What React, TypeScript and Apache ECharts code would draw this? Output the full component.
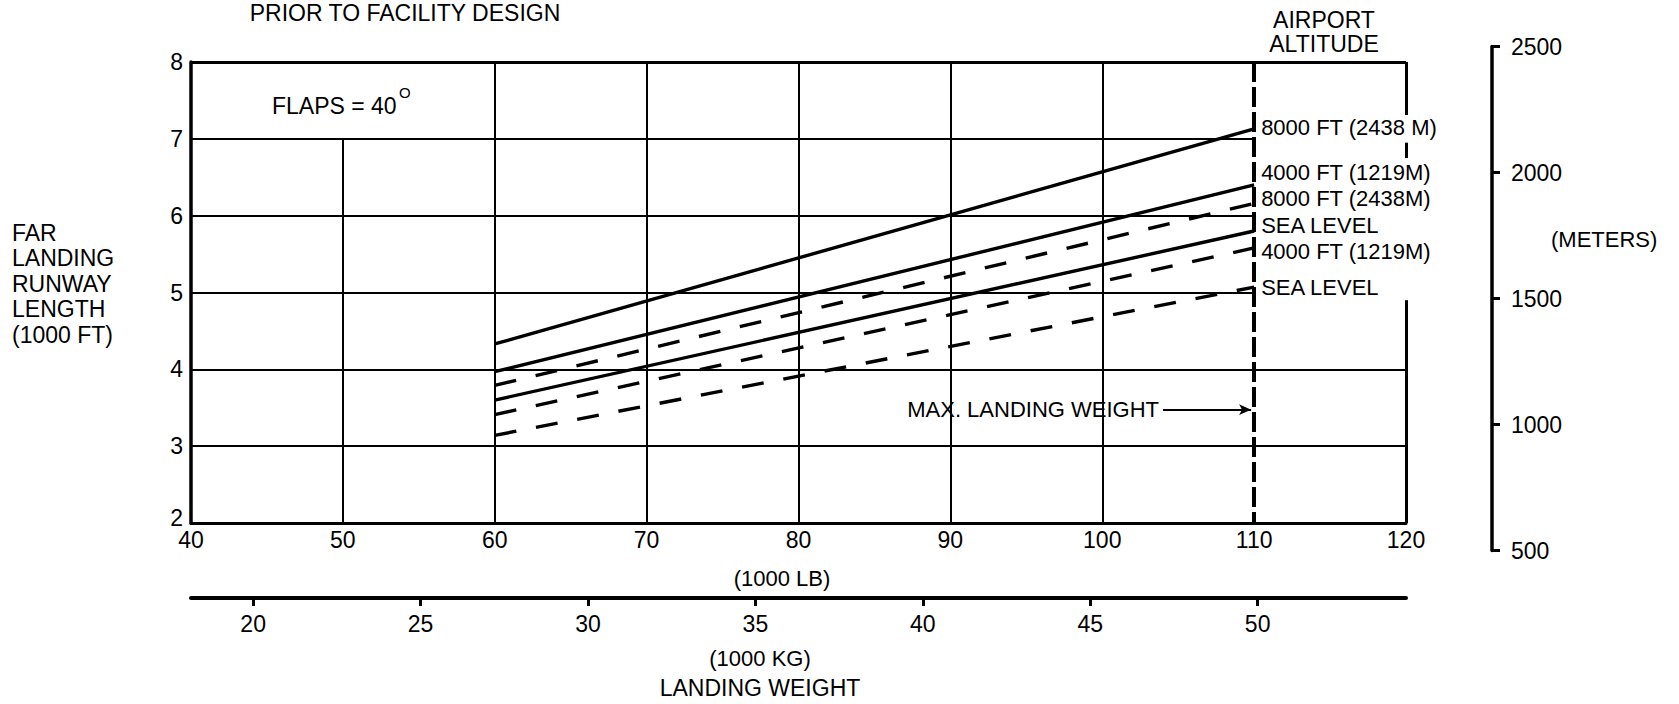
import React, { useEffect, useRef } from "react";
import * as echarts from "echarts";

// ---- data (landing weight in 1000 lb, runway length in 1000 ft) ----
const weightLb = [60, 110];
const solid8000 = [4.33, 7.13];
const solid4000 = [3.97, 6.4];
const solidSea = [3.6, 5.8];
const dashed8000 = [3.79, 6.16];
const dashed4000 = [3.41, 5.58];
const dashedSea = [3.14, 5.07];

const lbTicks = [40, 50, 60, 70, 80, 90, 100, 110, 120];
const kgTicks = [20, 25, 30, 35, 40, 45, 50];
const ftTicks = [2, 3, 4, 5, 6, 7, 8];
const meterTicks = [500, 1000, 1500, 2000, 2500];

const maxLandingWeightLb = 110;
const LB_PER_KG = 2.20462;

const FONT = "'Liberation Sans', Arial, Helvetica, sans-serif";

const toPairs = (ys: number[]) => weightLb.map((x, i) => [x, ys[i]]);

export default function App() {
  const ref = useRef<HTMLDivElement>(null);

  useEffect(() => {
    document.body.style.margin = "0";
    const chart = echarts.init(ref.current!, null, { renderer: "svg" });

    const lbMin = lbTicks[0];
    const lbMax = lbTicks[lbTicks.length - 1];
    const ftMin = ftTicks[0];
    const ftMax = ftTicks[ftTicks.length - 1];

    const black = "#000";
    const grid = { color: black, width: 2, type: "solid" as const };
    const border = { color: black, width: 3, type: "solid" as const };
    const seg = (x1: number, y1: number, x2: number, y2: number, ls: any) => [
      { coord: [x1, y1], lineStyle: ls },
      { coord: [x2, y2] },
    ];

    const gridLines: any[] = [
      // horizontal grid
      seg(lbMin, 3, lbMax, 3, grid),
      seg(lbMin, 4, lbMax, 4, grid),
      seg(lbMin, 5, maxLandingWeightLb, 5, grid),
      seg(lbMin, 6, maxLandingWeightLb, 6, grid),
      seg(lbMin, 7, maxLandingWeightLb, 7, grid),
      seg(lbMin, ftMax, lbMax, ftMax, border),
      // vertical grid
      seg(50, ftMin, 50, 7, grid),
      seg(60, ftMin, 60, ftMax, grid),
      seg(70, ftMin, 70, ftMax, grid),
      seg(80, ftMin, 80, ftMax, grid),
      seg(90, ftMin, 90, ftMax, grid),
      seg(100, ftMin, 100, ftMax, grid),
      // right border (interrupted by the altitude labels)
      seg(lbMax, ftMax, lbMax, 7.31, border),
      seg(lbMax, 6.95, lbMax, 6.75, border),
      seg(lbMax, 4.9, lbMax, ftMin, border),
      // max landing weight line
      seg(maxLandingWeightLb, ftMax, maxLandingWeightLb, ftMin, {
        color: black,
        width: 4,
        type: [20, 5],
      }),
      // arrow
      [
        {
          coord: [104.0, 3.475],
          symbol: "none",
          lineStyle: { color: black, width: 2, type: "solid" },
          label: {
            show: true,
            position: "start",
            formatter: "MAX. LANDING WEIGHT",
            color: black,
            fontSize: 22,
            fontFamily: FONT,
            distance: 4,
          },
        },
        { coord: [109.8, 3.475], symbol: "arrow", symbolSize: [8, 12] },
      ],
    ];

    const lineSeries = (
      name: string,
      ys: number[],
      dashed: boolean,
      label: string,
      dy: number,
      extra: any = {}
    ) => ({
      name,
      type: "line",
      xAxisIndex: 0,
      yAxisIndex: 0,
      data: toPairs(ys),
      symbol: "none",
      showSymbol: false,
      silent: true,
      lineStyle: {
        color: black,
        width: 3.4,
        type: dashed ? [22, 20] : "solid",
      },
      endLabel: {
        show: true,
        formatter: label,
        color: black,
        fontSize: 22,
        fontFamily: FONT,
        distance: 7,
        offset: [0, dy],
        align: "left",
      },
      z: 3,
      ...extra,
    });

    const textStyle = (extra: any) => ({
      fill: black,
      fontSize: 22,
      fontFamily: FONT,
      ...extra,
    });

    chart.setOption({
      animation: false,
      backgroundColor: "#fff",
      textStyle: { fontFamily: FONT, color: black },
      grid: [
        { left: 191, right: 273, top: 62, bottom: 181 },
        { left: 191, right: 187, top: 46.5, bottom: 153.4 },
        { left: 191, right: 273, top: 560, bottom: 106 },
      ],
      xAxis: [
        {
          gridIndex: 0,
          type: "value",
          min: lbMin,
          max: lbMax,
          interval: 10,
          axisLine: { show: true, onZero: false, lineStyle: { color: black, width: 3 } },
          axisTick: { show: false },
          splitLine: { show: false },
          axisLabel: { color: black, fontSize: 23, margin: 5, fontFamily: FONT },
        },
        { gridIndex: 1, type: "value", show: false, min: 0, max: 1 },
        {
          gridIndex: 2,
          type: "value",
          min: lbMin / LB_PER_KG,
          max: lbMax / LB_PER_KG,
          position: "bottom",
          axisLine: { show: true, onZero: false, lineStyle: { color: black, width: 4 } },
          axisTick: {
            show: true,
            length: 8,
            lineStyle: { color: black, width: 3 },
            customValues: kgTicks,
          },
          axisLabel: {
            color: black,
            fontSize: 23,
            margin: 14,
            fontFamily: FONT,
            customValues: kgTicks,
          },
          splitLine: { show: false },
        },
      ],
      yAxis: [
        {
          gridIndex: 0,
          type: "value",
          min: ftMin,
          max: ftMax,
          interval: 1,
          axisLine: { show: true, onZero: false, lineStyle: { color: black, width: 3.5 } },
          axisTick: { show: false },
          splitLine: { show: false },
          axisLabel: {
            color: black,
            fontSize: 23,
            margin: 8,
            fontFamily: FONT,
            formatter: (v: number) => (v === ftMin ? "{low|" + v + "}" : String(v)),
            rich: { low: { fontSize: 23, fontFamily: FONT, color: black, padding: [0, 0, 10, 0] } },
          },
        },
        {
          gridIndex: 1,
          type: "value",
          position: "right",
          min: meterTicks[0],
          max: meterTicks[meterTicks.length - 1],
          interval: 500,
          axisLine: { show: true, onZero: false, lineStyle: { color: black, width: 3.5 } },
          axisTick: { show: true, length: 8, lineStyle: { color: black, width: 3 } },
          axisLabel: {
            color: black,
            fontSize: 23,
            margin: 19,
            fontFamily: FONT,
            formatter: (v: number) => String(v),
          },
          splitLine: { show: false },
        },
        { gridIndex: 2, type: "value", show: false },
      ],
      series: [
        lineSeries("8000 FT solid", solid8000, false, "8000 FT (2438 M)", -1, {
          markLine: {
            silent: true,
            symbol: ["none", "none"],
            label: { show: false },
            lineStyle: { color: black, width: 2, type: "solid" },
            data: gridLines,
            z: 2,
          },
        }),
        lineSeries("4000 FT solid", solid4000, false, "4000 FT (1219M)", -12),
        lineSeries("8000 FT dashed", dashed8000, true, "8000 FT (2438M)", -5),
        lineSeries("SEA LEVEL solid", solidSea, false, "SEA LEVEL", -6),
        lineSeries("4000 FT dashed", dashed4000, true, "4000 FT (1219M)", 4),
        lineSeries("SEA LEVEL dashed", dashedSea, true, "SEA LEVEL", 0),
      ],
      graphic: [
        {
          type: "text",
          x: 405,
          y: 13,
          style: textStyle({ text: "PRIOR TO FACILITY DESIGN", fontSize: 23, align: "center", verticalAlign: "middle" }),
        },
        {
          type: "text",
          x: 272,
          y: 106,
          style: textStyle({ text: "FLAPS = 40", fontSize: 23, align: "left", verticalAlign: "middle" }),
        },
        {
          type: "text",
          x: 399,
          y: 92,
          style: textStyle({ text: "O", fontSize: 15, align: "left", verticalAlign: "middle" }),
        },
        {
          type: "text",
          x: 1324,
          y: 20,
          style: textStyle({ text: "AIRPORT", fontSize: 23, align: "center", verticalAlign: "middle" }),
        },
        {
          type: "text",
          x: 1324,
          y: 44,
          style: textStyle({ text: "ALTITUDE", fontSize: 23, align: "center", verticalAlign: "middle" }),
        },
        {
          type: "text",
          x: 12,
          y: 220,
          style: textStyle({
            text: "FAR\nLANDING\nRUNWAY\nLENGTH\n(1000 FT)",
            fontSize: 23,
            lineHeight: 25.5,
            align: "left",
            verticalAlign: "top",
          }),
        },
        {
          type: "text",
          x: 1551,
          y: 239,
          style: textStyle({ text: "(METERS)", fontSize: 22, align: "left", verticalAlign: "middle" }),
        },
        {
          type: "text",
          x: 782,
          y: 578,
          style: textStyle({ text: "(1000 LB)", fontSize: 22, align: "center", verticalAlign: "middle" }),
        },
        {
          type: "text",
          x: 760,
          y: 658,
          style: textStyle({ text: "(1000 KG)", fontSize: 22, align: "center", verticalAlign: "middle" }),
        },
        {
          type: "text",
          x: 760,
          y: 688,
          style: textStyle({ text: "LANDING WEIGHT", fontSize: 23, align: "center", verticalAlign: "middle" }),
        },
      ],
    });

    return () => chart.dispose();
  }, []);

  return <div ref={ref} style={{ width: 1679, height: 704 }} />;
}
